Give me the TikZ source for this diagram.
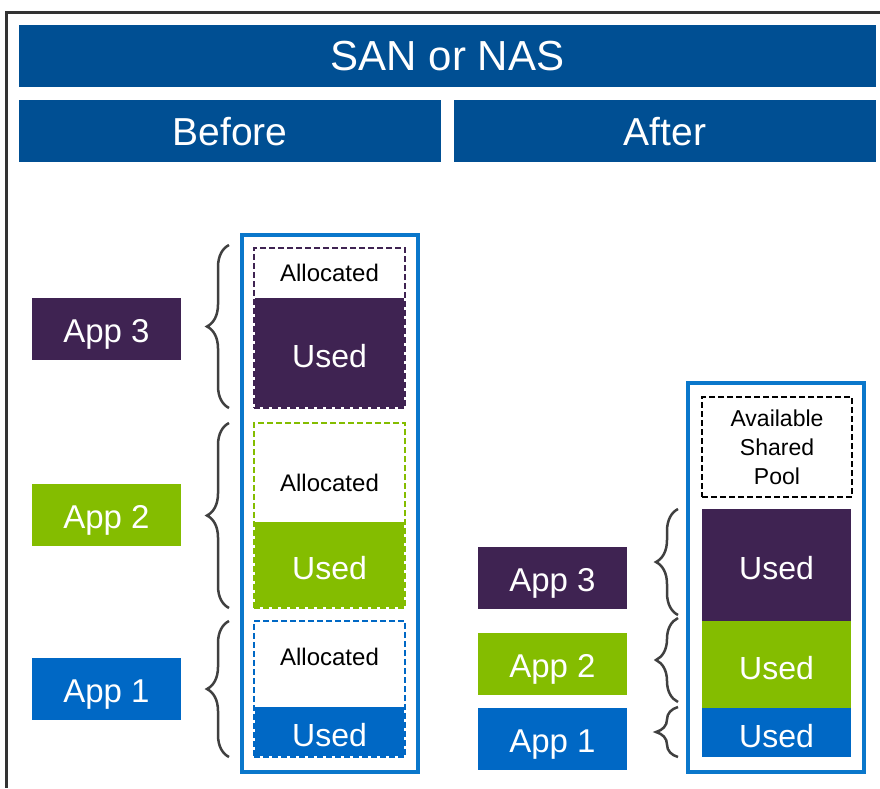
\documentclass[tikz,border=0pt]{standalone}
\usepackage{fontspec}
\setmainfont{Liberation Sans}
\usetikzlibrary{positioning,decorations.pathreplacing}
\definecolor{hdrblue}{HTML}{004F93}
\definecolor{appviolet}{HTML}{3F2352}
\definecolor{appgreen}{HTML}{84BD00}
\definecolor{appblue}{HTML}{0068C5}
\definecolor{colblue}{HTML}{0A77CB}
\definecolor{bracegray}{HTML}{404040}
\definecolor{framegray}{HTML}{333333}

\begin{document}
\begin{tikzpicture}[x=1pt,y=-1pt,
    box/.style={inner sep=0pt,outer sep=0pt,anchor=north west},
    header/.style={box,fill=hdrblue,text=white,minimum height=62pt,text depth=0pt},
    app/.style={box,text=white,minimum width=149pt,minimum height=62pt,text depth=0pt,text height=26pt,font=\fontsize{33}{36}\selectfont},
    used/.style={box,text=white,minimum width=149pt,text depth=0pt,text height=29pt,font=\fontsize{32}{36}\selectfont},
    alloc/.style={box,line width=2.6pt,dash pattern=on 6pt off 3pt,minimum width=151pt},
    alloctext/.style={inner sep=0pt,font=\fontsize{24}{28}\selectfont,text depth=0pt},
    column/.style={box,draw=colblue,line width=4pt,minimum width=176pt},
    curly/.style={decorate,decoration={brace,amplitude=22pt},draw=bracegray,line width=2.5pt}]

\useasboundingbox (0,0) rectangle (880,788);
\draw[line width=3pt,framegray] (880,12) -- (6,12) -- (6,788);

% headers
\node[header,minimum width=857pt,font=\fontsize{42}{46}\selectfont] (san) at (19,25) {SAN or NAS};
\node[header,minimum width=422pt,font=\fontsize{39}{42}\selectfont] (before) at (19,100) {Before};
\node[header,minimum width=422pt,font=\fontsize{39}{42}\selectfont,right=13pt of before] (after) {After};

% before
\node[app,fill=appviolet] (app3L) at (32,298) {App 3};
\node[app,fill=appgreen]  (app2L) at (32,484) {App 2};
\node[app,fill=appblue]   (app1L) at (32,658) {App 1};
\node[column,minimum height=537pt] (colL) at (242,235) {};

\node[used,fill=appviolet,minimum height=109pt] (used3L) at (255,298) {Used};
\node[used,fill=appgreen,minimum height=85pt]   (used2L) at (255,522) {Used};
\node[used,fill=appblue,minimum height=49pt]    (used1L) at (255,707) {Used};
\node[alloc,draw=appviolet,minimum height=160pt] (alloc3) at (254,248) {};
\node[alloc,draw=appgreen,minimum height=185pt]  (alloc2) at (254,423) {};
\node[alloc,draw=appblue,minimum height=136pt]   (alloc1) at (254,621) {};
\node[alloctext] (txt3) at (329.5,273) {Allocated};
\node[alloctext] (txt2) at (329.5,483) {Allocated};
\node[alloctext] (txt1) at (329.5,657) {Allocated};

\draw[curly] ([xshift=-25pt]alloc3.south west) -- ([xshift=-25pt,yshift=3pt]alloc3.north west);
\draw[curly] ([xshift=-25pt]alloc2.south west) -- ([xshift=-25pt]alloc2.north west);
\draw[curly] ([xshift=-25pt]alloc1.south west) -- ([xshift=-25pt]alloc1.north west);

% after
\node[app,fill=appviolet] (app3R) at (478,547) {App 3};
\node[app,fill=appgreen]  (app2R) at (478,633) {App 2};
\node[app,fill=appblue]   (app1R) at (478,708) {App 1};
\node[column,minimum height=389pt] (colR) at (688,383) {};

\node[box,draw,line width=2.6pt,dash pattern=on 6pt off 3pt,minimum width=150pt,minimum height=100pt,
      align=center,font=\fontsize{23}{29}\selectfont] (pool) at (702,397) {Available\\Shared\\Pool};
\node[used,fill=appviolet,minimum height=112pt] (used3R) at (702,509) {Used};
\node[used,fill=appgreen,minimum height=87pt]   (used2R) at (702,621) {Used};
\node[used,fill=appblue,minimum height=49pt]    (used1R) at (702,708) {Used};

\draw[curly] ([xshift=-24pt,yshift=6pt]used3R.south west) -- ([xshift=-24pt]used3R.north west);
\draw[curly] ([xshift=-24pt,yshift=6pt]used2R.south west) -- ([xshift=-24pt,yshift=3pt]used2R.north west);
\draw[curly] ([xshift=-24pt]used1R.south west) -- ([xshift=-24pt,yshift=1pt]used1R.north west);
\end{tikzpicture}
\end{document}
